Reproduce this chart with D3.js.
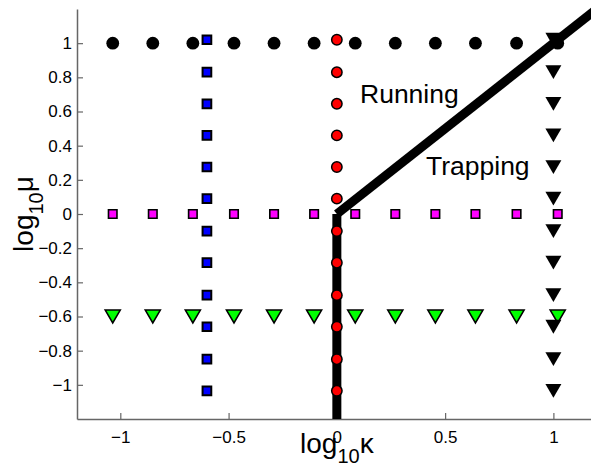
<!DOCTYPE html>
<html>
<head>
<meta charset="utf-8">
<script src="https://cdnjs.cloudflare.com/ajax/libs/d3/7.8.5/d3.min.js"></script>
<style>
body{margin:0;background:#fff;}
text{font-family:"Liberation Sans",Arial,sans-serif;}
</style>
</head>
<body>
<script>
// grid positions (log10 kappa along x, log10 mu along y)
var kappaGrid = [-1.035, -0.85, -0.665, -0.475, -0.29, -0.105, 0.085, 0.27, 0.455, 0.64, 0.83, 1.02];
var muGrid = [1.02, 0.83, 0.645, 0.46, 0.275, 0.09, -0.1, -0.285, -0.475, -0.66, -0.85, -1.035];
// fixed coordinate of each row / column of markers
var muRows = [1, 0, -0.6];
var kappaCols = [-0.6, 0, 1];
// boundary between running and trapping
var boundaryVert = [[0, -1.2], [0, 0]];
var boundaryDiag = [[0, 0], [1.2, 1.2]];
var xTicks = [-1, -0.5, 0, 0.5, 1];
var yTicks = [1, 0.8, 0.6, 0.4, 0.2, 0, -0.2, -0.4, -0.6, -0.8, -1];

var width = 591, height = 465;
var svg = d3.select("body").append("svg")
  .attr("width", width).attr("height", height);

var x = d3.scaleLinear().domain([-1.2, 1.2]).range([77, 596.7]);
var y = d3.scaleLinear().domain([-1.2, 1.2]).range([419, 9]);

var fmt = function(d){ return String(d).replace("-", "\u2212"); };

// axes (box off, ticks inward)
var xAxis = svg.append("g").attr("transform", "translate(0," + y(-1.2) + ")")
  .call(d3.axisBottom(x).tickValues(xTicks).tickSizeInner(-6).tickSizeOuter(0).tickPadding(12).tickFormat(fmt));
var yAxis = svg.append("g").attr("transform", "translate(" + x(-1.2) + ",0)")
  .call(d3.axisLeft(y).tickValues(yTicks).tickSizeInner(-6).tickSizeOuter(0).tickPadding(5).tickFormat(fmt));
[xAxis, yAxis].forEach(function(g){
  g.select(".domain").attr("stroke", "#666").attr("stroke-width", 1.5);
  g.selectAll(".tick line").attr("stroke", "#666").attr("stroke-width", 1.2);
  g.selectAll(".tick text").attr("font-size", 17).attr("fill", "#000")
    .style("font-family", "'Liberation Sans',Arial,sans-serif");
});

// boundary lines
var line = d3.line().x(function(d){ return x(d[0]); }).y(function(d){ return y(d[1]); });
[boundaryVert, boundaryDiag].forEach(function(seg){
  svg.append("path").attr("d", line(seg))
    .attr("fill", "none").attr("stroke", "#000").attr("stroke-width", 9).attr("stroke-linecap", "butt");
});

// downward triangle symbol
var triDown = {
  draw: function(ctx, size){
    var w = Math.sqrt(size);
    ctx.moveTo(-w/2, -w*0.43);
    ctx.lineTo(w/2, -w*0.43);
    ctx.lineTo(0, w*0.43);
    ctx.closePath();
  }
};
var sym = function(type, size){ return d3.symbol().type(type).size(size)(); };

var drawRow = function(mu, shape, size, fill, stroke, sw){
  svg.append("g").selectAll("path").data(kappaGrid).enter().append("path")
    .attr("transform", function(d){ return "translate(" + x(d) + "," + y(mu) + ")"; })
    .attr("d", sym(shape, size))
    .attr("fill", fill).attr("stroke", stroke).attr("stroke-width", sw);
};
var drawCol = function(kappa, shape, size, fill, stroke, sw){
  svg.append("g").selectAll("path").data(muGrid).enter().append("path")
    .attr("transform", function(d){ return "translate(" + x(kappa) + "," + y(d) + ")"; })
    .attr("d", sym(shape, size))
    .attr("fill", fill).attr("stroke", stroke).attr("stroke-width", sw);
};

drawRow(muRows[0], d3.symbolCircle, Math.PI*6.4*6.4, "#000", "none", 0);
drawRow(muRows[1], d3.symbolSquare, 8.5*8.5, "#ff00ff", "#000", 1.6);
drawRow(muRows[2], triDown, 15*15, "#00ff00", "#000", 1.6);
drawCol(kappaCols[0], d3.symbolSquare, 8.7*8.7, "#0000ff", "#000", 2);
drawCol(kappaCols[1], d3.symbolCircle, Math.PI*5.2*5.2, "#ff0000", "#000", 1.5);
drawCol(kappaCols[2], triDown, 16*16, "#000", "none", 0);

// region labels
svg.append("text").attr("x", 360).attr("y", 103).attr("font-size", 26.5).text("Running");
svg.append("text").attr("x", 426).attr("y", 175).attr("font-size", 26.5).text("Trapping");

// axis labels
var xl = svg.append("text").attr("x", x(0)).attr("y", 453).attr("text-anchor", "middle").attr("font-size", 28);
xl.append("tspan").text("log");
xl.append("tspan").attr("font-size", 20).attr("dy", 10).text("10");
xl.append("tspan").attr("dy", -10).text("\u03ba");

var yl = svg.append("text").attr("transform", "translate(33," + y(0) + ") rotate(-90)")
  .attr("text-anchor", "middle").attr("font-size", 28);
yl.append("tspan").text("log");
yl.append("tspan").attr("font-size", 20).attr("dy", 10).text("10");
yl.append("tspan").attr("dy", -10).text("\u03bc");
</script>
</body>
</html>
